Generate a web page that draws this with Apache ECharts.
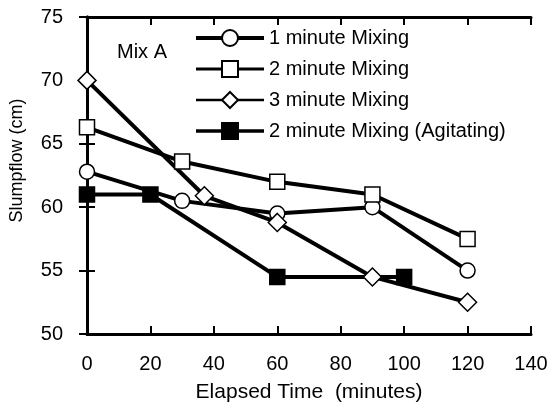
<!DOCTYPE html>
<html>
<head>
<meta charset="utf-8">
<script src="https://cdn.jsdelivr.net/npm/echarts@6/dist/echarts.min.js"></script>
<style>
  html, body { margin: 0; padding: 0; background: #fff; }
  #chart { width: 552px; height: 408px; }
</style>
</head>
<body>
<div id="chart"></div>
<script>
// data: [elapsed minutes, slumpflow cm]
var mix1 = [[0, 62.8], [30, 60.5], [60, 59.5], [90, 60.0], [120, 55.0]];
var mix2 = [[0, 66.3], [30, 63.6], [60, 62.0], [90, 61.0], [120, 57.5]];
var mix3 = [[0, 70.0], [37, 60.9], [60, 58.8], [90, 54.5], [120, 52.5]];
var mix2agit = [[0, 61.0], [20, 61.0], [60, 54.5], [100, 54.5]];

var names = ['1 minute Mixing', '2 minute Mixing', '3 minute Mixing', '2 minute Mixing (Agitating)'];

var font = 'Liberation Sans, Arial, Helvetica, sans-serif';

var myChart = echarts.init(document.getElementById('chart'));

function lineSeries(name, data, symbol, size, fill) {
    return {
        name: name,
        type: 'line',
        data: data,
        xAxisIndex: 0,
        yAxisIndex: 0,
        symbol: symbol,
        symbolSize: size,
        showAllSymbol: true,
        lineStyle: { color: '#000', width: 4 },
        itemStyle: { color: fill, borderColor: '#000', borderWidth: 1.5 },
        emphasis: { disabled: true },
        animation: false
    };
}

// tick marks point inwards on all four sides
var tick = { inside: true, length: 8, lineStyle: { color: '#000', width: 2 } };
var frame = { lineStyle: { color: '#000', width: 3 } };

var option = {
    backgroundColor: '#FFFFFF',
    animation: false,
    grid: { left: 87, right: 21, top: 17, bottom: 74 },
    legend: {
        orient: 'vertical',
        left: 189,
        top: 23,
        itemWidth: 68,
        itemHeight: 20,
        itemGap: 11,
        lineStyle: { width: 3.5 },
        textStyle: { fontFamily: font, fontSize: 20, color: '#000' },
        // the scanned legend strokes differ a little in weight
        data: [
            { name: names[0], lineStyle: { width: 4 } },
            { name: names[1], lineStyle: { width: 3 } },
            { name: names[2], lineStyle: { width: 2.5 } },
            { name: names[3], lineStyle: { width: 3.5 } }
        ]
    },
    graphic: [{
        type: 'text',
        left: 117,
        top: 42,
        style: { text: 'Mix A', font: '20px ' + font, fill: '#000' }
    }],
    xAxis: [{
        type: 'value',
        position: 'bottom',
        min: 0, max: 140, interval: 20,
        name: 'Elapsed Time  (minutes)',
        nameLocation: 'middle',
        nameGap: 48,
        nameTextStyle: { fontFamily: font, fontSize: 21, color: '#000' },
        axisLine: frame,
        axisTick: tick,
        axisLabel: { fontFamily: font, fontSize: 20, color: '#000', margin: 20 },
        splitLine: { show: false }
    }, {
        type: 'value',
        position: 'top',
        min: 0, max: 140, interval: 20,
        axisLine: frame,
        axisTick: tick,
        axisLabel: { show: false },
        splitLine: { show: false }
    }],
    yAxis: [{
        type: 'value',
        position: 'left',
        min: 50, max: 75, interval: 5,
        name: 'Slumpflow (cm)',
        nameLocation: 'middle',
        nameGap: 61,
        nameTextStyle: { fontFamily: font, fontSize: 18, color: '#000', padding: [0, 0, 0, 30] },
        axisLine: frame,
        axisTick: tick,
        axisLabel: { fontFamily: font, fontSize: 20, color: '#000', margin: 24 },
        splitLine: { show: false }
    }, {
        type: 'value',
        position: 'right',
        min: 50, max: 75, interval: 5,
        axisLine: frame,
        axisTick: tick,
        axisLabel: { show: false },
        splitLine: { show: false }
    }],
    series: [
        lineSeries(names[0], mix1, 'circle', 15, '#fff'),
        lineSeries(names[1], mix2, 'rect', 15, '#fff'),
        lineSeries(names[2], mix3, 'diamond', 18, '#fff'),
        lineSeries(names[3], mix2agit, 'rect', 15, '#000')
    ]
};

myChart.setOption(option);
</script>
</body>
</html>
